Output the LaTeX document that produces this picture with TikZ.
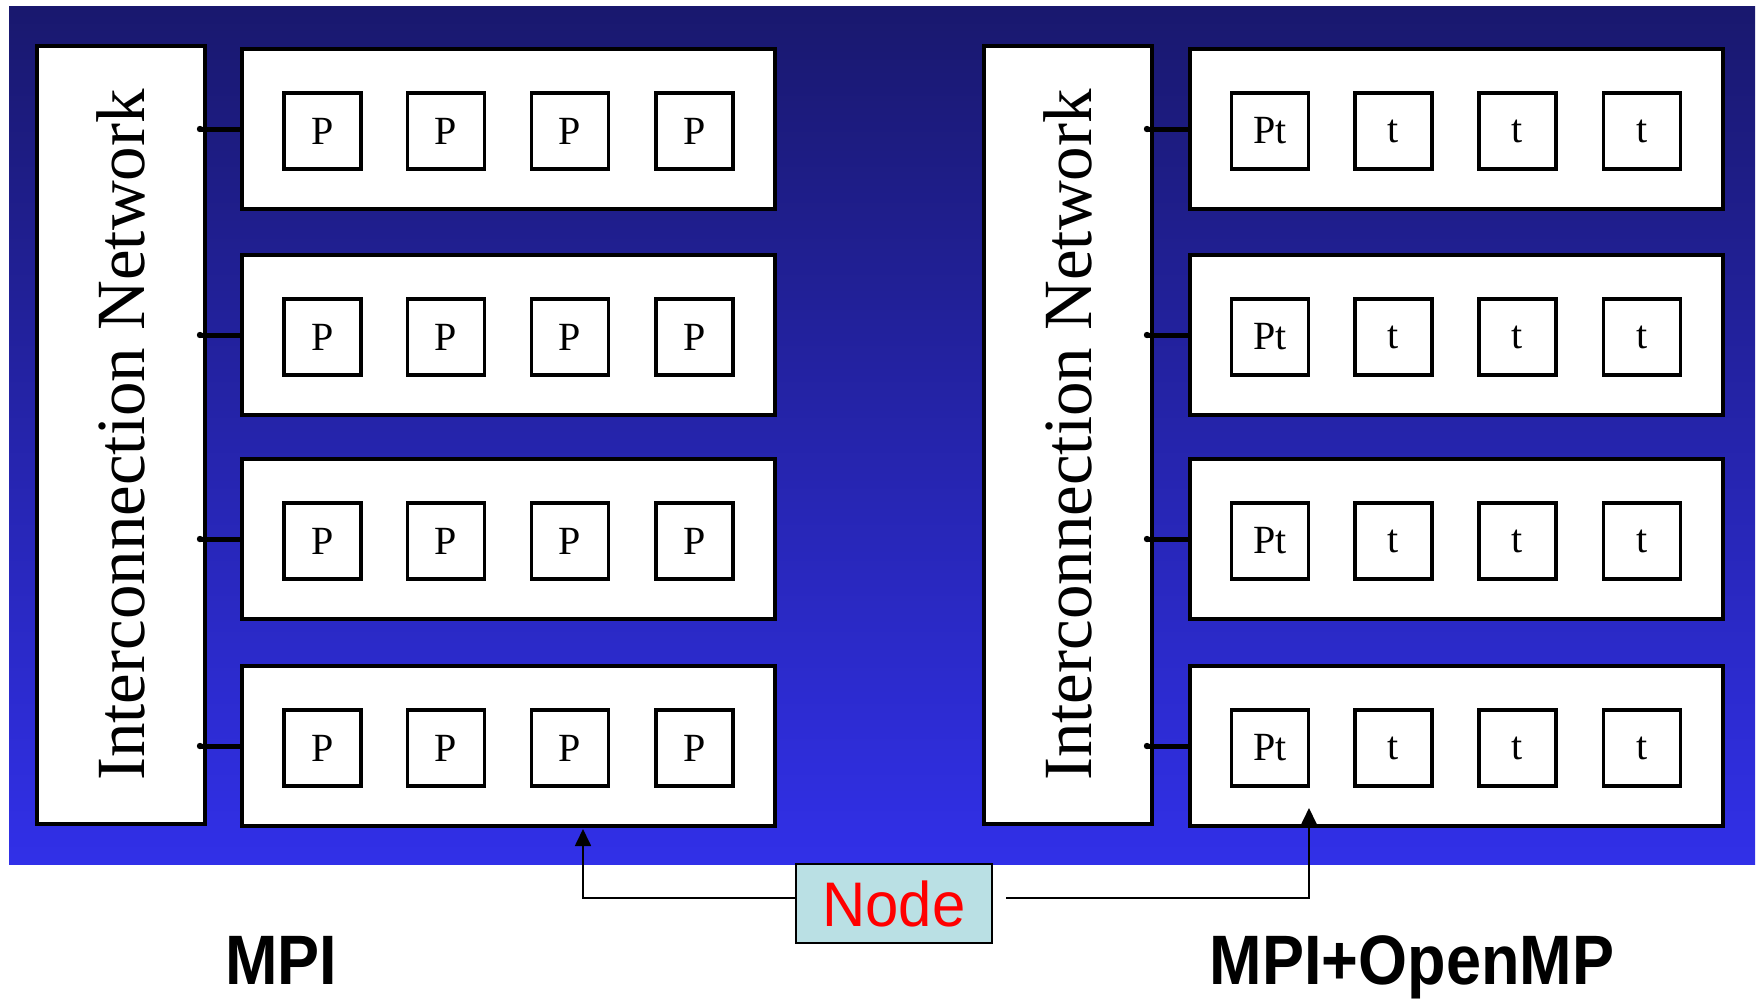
\documentclass[tikz,border=0pt]{standalone}
\usepackage{fontspec}
\setmainfont{Liberation Serif}
\newfontfamily\nodefont[FakeStretch=0.95]{Liberation Sans}
\newfontfamily\titlefont[FakeStretch=0.9]{Liberation Sans}
\usetikzlibrary{arrows.meta}
\definecolor{bgtop}{RGB}{25,24,110}
\definecolor{bgbot}{RGB}{49,48,232}
\definecolor{lblfill}{RGB}{186,224,228}
\tikzset{
  netbox/.style={draw, fill=white, line width=4pt, minimum width=168pt, minimum height=778pt, inner sep=0pt},
  nettext/.style={rotate=90, inner sep=0pt, font=\fontsize{69}{69}\selectfont},
  rowbox/.style={draw, fill=white, line width=4pt, minimum width=533pt, minimum height=160pt, inner sep=0pt},
  procbox/.style={draw, fill=white, line width=3.5pt, minimum width=77pt, minimum height=76pt, inner sep=0pt, font=\fontsize{40}{40}\selectfont},
  conn/.style={line width=5pt},
  lblbox/.style={draw, fill=lblfill, line width=1.5pt, minimum width=196pt, minimum height=79pt, inner sep=0pt, text=red, font=\nodefont\fontsize{63}{63}\selectfont},
  arr/.style={line width=1.8pt, -{Triangle[width=16pt,length=17pt]}},
  title/.style={anchor=base, inner sep=0pt, font=\titlefont\bfseries\fontsize{70}{70}\selectfont}
}
\begin{document}
\begin{tikzpicture}[x=1pt,y=-1pt]
\useasboundingbox (0,0) rectangle (1762,999);
\shade[top color=bgtop, bottom color=bgbot] (9,6) rectangle (1755,864);

% left (MPI)
\node[netbox] (lnet) at (121,435) {};
\node[nettext] (lnettxt) at (lnet.center) {Interconnection Network};
\foreach \r/\y in {1/129,2/335,3/539,4/746}{
  \node[rowbox] (lrow\r) at (508.5,\y) {};
  \foreach \c/\x in {1/322.5,2/446,3/570,4/694.5}{
    \node[procbox] (lp\r\c) at (\x,\y+2) {P};
  }
  \draw[conn] (lrow\r.west) -- ([xshift=-7pt]lrow\r.west -| lnet.east) coordinate (lend\r);
  \fill (lend\r) circle (3.2pt);
}

% right (MPI+OpenMP)
\node[netbox] (rnet) at (1068,435) {};
\node[nettext] (rnettxt) at (rnet.center) {Interconnection Network};
\foreach \r/\y in {1/129,2/335,3/539,4/746}{
  \node[rowbox] (rrow\r) at (1456,\y) {};
  \node[procbox] (rp\r1) at (1270,\y+2) {Pt};
  \foreach \c/\x in {2/1393.5,3/1517.5,4/1642}{
    \node[procbox] (rp\r\c) at (\x,\y+2) {t};
  }
  \draw[conn] (rrow\r.west) -- ([xshift=-7pt]rrow\r.west -| rnet.east) coordinate (rend\r);
  \fill (rend\r) circle (3.2pt);
}

% Node label and arrows
\node[lblbox] (lbl) at (894,903.5) {Node};
\coordinate (la) at (583,898);
\coordinate (rs) at (1006,898);
\coordinate (ra) at (1309,898);
\coordinate (rtip) at (1309,808);
\draw[arr] (lbl.west |- la) -- (la) -- ([yshift=-1pt]la |- lrow4.south);
\draw[arr] (rs) -- (ra) -- (rtip);

% titles
\node[title] (mpi) at (281,984) {MPI};
\node[title] (hyb) at (1412,984) {MPI+OpenMP};
\end{tikzpicture}
\end{document}
